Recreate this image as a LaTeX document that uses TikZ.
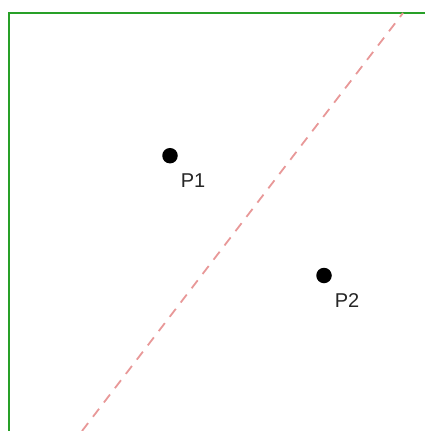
\documentclass[tikz,border=0pt]{standalone}
\usepackage{fontspec}
\setmainfont{Liberation Sans}
\definecolor{frame}{RGB}{40,160,40}
\definecolor{split}{RGB}{232,152,152}
\tikzset{
  pt/.style={circle,fill=black,inner sep=0pt,minimum size=15.5pt},
  lbl/.style={font=\fontsize{20}{22}\selectfont,inner sep=0pt,text=black!85,anchor=base},
  border/.style={draw=frame,line width=2pt},
  divider/.style={draw=split,line width=1.8pt,dash pattern=on 10pt off 8pt}
}
\begin{document}
\begin{tikzpicture}[x=1pt,y=-1pt]
\useasboundingbox (0,0) rectangle (425,431);
\coordinate (tr) at (425,13);
\coordinate (tl) at (8.5,13);
\coordinate (bl) at (8.5,431);
\draw[border] (tr) -- (tl) -- (bl);
\coordinate (d1) at (82,431);
\coordinate (d2) at (403,13);
\draw[divider] (d1) -- (d2);
\node[pt] (p1) at (170,155.7) {};
\node[pt] (p2) at (324,275.5) {};
\node[lbl] (l1) at (193,187.3) {P1};
\node[lbl] (l2) at (347,307.3) {P2};
\end{tikzpicture}
\end{document}
